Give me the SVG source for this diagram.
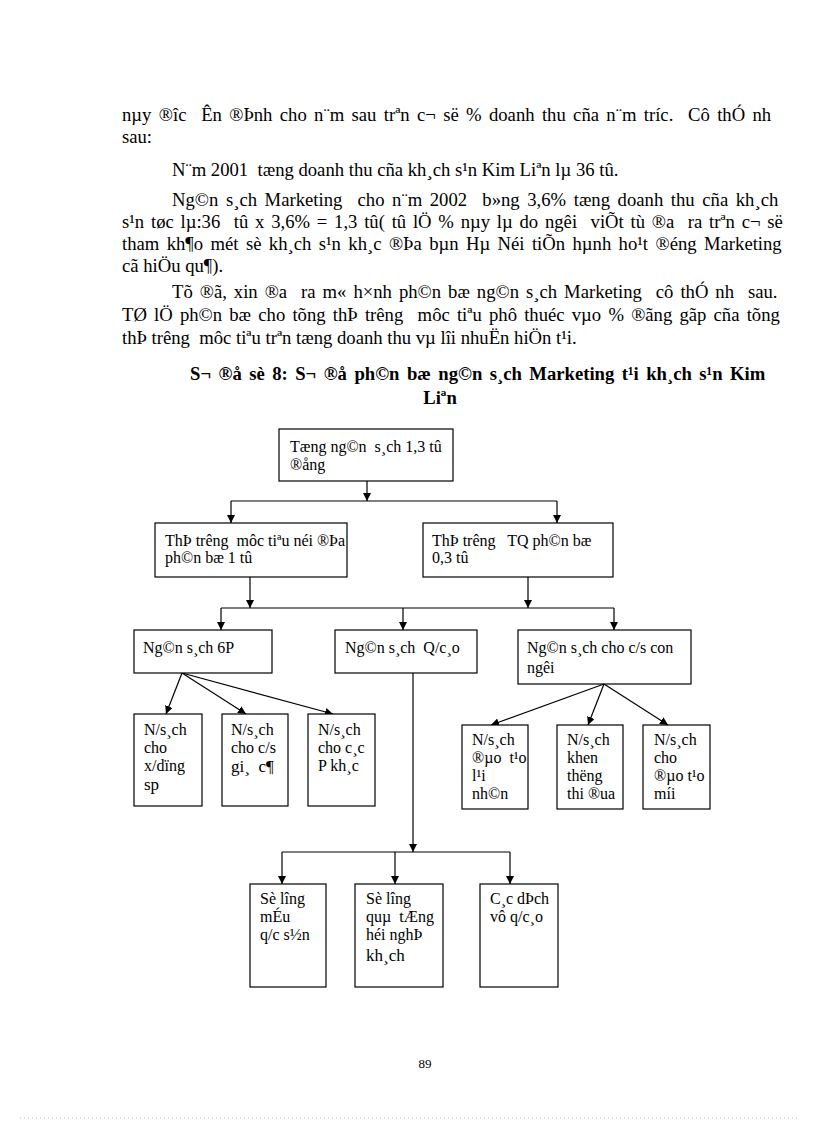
<svg xmlns="http://www.w3.org/2000/svg" width="816" height="1123" viewBox="0 0 816 1123">
<style>
.body{font-family:"Liberation Serif","Times New Roman",serif;font-size:18.67px;fill:#000;white-space:pre}
.title{font-family:"Liberation Serif","Times New Roman",serif;font-size:18.67px;font-weight:bold;fill:#000;white-space:pre}
.nt{font-family:"Liberation Serif","Times New Roman",serif;font-size:16px;fill:#000;white-space:pre}
.big{font-size:17px}
.box{fill:#fff;stroke:#000;stroke-width:1.2}
.ln{fill:none;stroke:#000;stroke-width:1.2}
.pg{font-family:"Liberation Serif","Times New Roman",serif;font-size:13px;fill:#000}
</style>
<defs>
<marker id="ah" viewBox="0 0 10 10" refX="10" refY="5" markerWidth="8" markerHeight="8" markerUnits="userSpaceOnUse" orient="auto">
<path d="M0,0 L10,5 L0,10 z" fill="#000"/>
</marker>
</defs>
<rect width="816" height="1123" fill="#fff"/>
<g id="body-text">
<text class="body" x="122" y="121" word-spacing="2.7">nµy ®îc  Ên ®Þnh cho n¨m sau trªn c¬ së % doanh thu cña n¨m tríc.  Cô thÓ nh</text>
<text class="body" x="122" y="143">sau:</text>
<text class="body" x="172" y="176">N¨m 2001  tæng doanh thu cña kh¸ch s¹n Kim Liªn lµ 36 tû.</text>
<text class="body" x="172" y="206" word-spacing="2.95">Ng©n s¸ch Marketing  cho n¨m 2002  b»ng 3,6% tæng doanh thu cña kh¸ch</text>
<text class="body" x="122" y="228" word-spacing="2.1">s¹n tøc lµ:36  tû x 3,6% = 1,3 tû( tû lÖ % nµy lµ do ngêi  viÕt tù ®a  ra trªn c¬ së</text>
<text class="body" x="122" y="250" word-spacing="2.74">tham kh¶o mét sè kh¸ch s¹n kh¸c ®Þa bµn Hµ Néi tiÕn hµnh ho¹t ®éng Marketing</text>
<text class="body" x="122" y="272">cã hiÖu qu¶).</text>
<text class="body" x="172" y="298" word-spacing="2.33">Tõ ®ã, xin ®a  ra m« h×nh ph©n bæ ng©n s¸ch Marketing  cô thÓ nh  sau.</text>
<text class="body" x="122" y="321" word-spacing="2.54">TØ lÖ ph©n bæ cho tõng thÞ trêng  môc tiªu phô thuéc vµo % ®ãng gãp cña tõng</text>
<text class="body" x="122" y="344">thÞ trêng  môc tiªu trªn tæng doanh thu vµ lîi nhuËn hiÖn t¹i.</text>
<text class="title" x="190" y="380" word-spacing="2.8">S¬ ®å sè 8: S¬ ®å ph©n bæ ng©n s¸ch Marketing t¹i kh¸ch s¹n Kim</text>
<text class="title" x="440" y="404" text-anchor="middle">Liªn</text>
</g>
<g id="connectors">
<line class="ln" x1="367" y1="481" x2="367" y2="501" marker-end="url(#ah)"/>
<line class="ln" x1="231" y1="501" x2="557" y2="501"/>
<line class="ln" x1="231" y1="501" x2="231" y2="523" marker-end="url(#ah)"/>
<line class="ln" x1="557" y1="501" x2="557" y2="523" marker-end="url(#ah)"/>
<line class="ln" x1="250" y1="577" x2="250" y2="608" marker-end="url(#ah)"/>
<line class="ln" x1="528" y1="577" x2="528" y2="608" marker-end="url(#ah)"/>
<line class="ln" x1="221" y1="608" x2="614" y2="608"/>
<line class="ln" x1="221" y1="608" x2="221" y2="630" marker-end="url(#ah)"/>
<line class="ln" x1="403" y1="608" x2="403" y2="630" marker-end="url(#ah)"/>
<line class="ln" x1="614" y1="608" x2="614" y2="630" marker-end="url(#ah)"/>
<line class="ln" x1="182" y1="673" x2="166" y2="714" marker-end="url(#ah)"/>
<line class="ln" x1="182" y1="673" x2="246" y2="714" marker-end="url(#ah)"/>
<line class="ln" x1="182" y1="673" x2="333" y2="714" marker-end="url(#ah)"/>
<line class="ln" x1="604" y1="684" x2="491" y2="725" marker-end="url(#ah)"/>
<line class="ln" x1="604" y1="684" x2="588" y2="725" marker-end="url(#ah)"/>
<line class="ln" x1="604" y1="684" x2="668" y2="725" marker-end="url(#ah)"/>
<line class="ln" x1="413" y1="673" x2="413" y2="852" marker-end="url(#ah)"/>
<line class="ln" x1="282" y1="852" x2="510" y2="852"/>
<line class="ln" x1="282" y1="852" x2="282" y2="884" marker-end="url(#ah)"/>
<line class="ln" x1="395" y1="852" x2="395" y2="884" marker-end="url(#ah)"/>
<line class="ln" x1="510" y1="852" x2="510" y2="884" marker-end="url(#ah)"/>
</g>
<g id="n-total">
<rect class="box" x="279" y="429" width="174" height="52"/>
<text class="nt" x="290" y="452">Tæng ng©n  s¸ch 1,3 tû</text>
<text class="nt" x="290" y="470">®ång</text>
</g>
<g id="n-noidia">
<rect class="box" x="155" y="523" width="192" height="54"/>
<text class="nt" x="165" y="546">ThÞ trêng  môc tiªu néi ®Þa</text>
<text class="nt" x="165" y="563">ph©n bæ 1 tû</text>
</g>
<g id="n-tq">
<rect class="box" x="423" y="523" width="190" height="54"/>
<text class="nt" x="432" y="546">ThÞ trêng   TQ ph©n bæ</text>
<text class="nt" x="432" y="563">0,3 tû</text>
</g>
<g id="n-6p">
<rect class="box" x="134" y="630" width="138" height="43"/>
<text class="nt" x="143" y="653">Ng©n s¸ch 6P</text>
</g>
<g id="n-qc">
<rect class="box" x="335" y="630" width="142" height="43"/>
<text class="nt" x="345" y="653">Ng©n s¸ch  Q/c¸o</text>
</g>
<g id="n-cs">
<rect class="box" x="518" y="630" width="173" height="54"/>
<text class="nt" x="527" y="653">Ng©n s¸ch cho c/s con</text>
<text class="nt" x="527" y="673">ngêi</text>
</g>
<g id="n-xd">
<rect class="box" x="134" y="714" width="68" height="92"/>
<text class="nt" x="144" y="735">N/s¸ch</text>
<text class="nt" x="144" y="753">cho</text>
<text class="nt" x="144" y="771">x/dïng</text>
<text class="nt big" x="144" y="790">sp</text>
</g>
<g id="n-gia">
<rect class="box" x="222" y="714" width="66" height="92"/>
<text class="nt" x="231" y="735">N/s¸ch</text>
<text class="nt" x="231" y="753">cho c/s</text>
<text class="nt big" x="231" y="772">gi¸  c¶</text>
</g>
<g id="n-pkhac">
<rect class="box" x="308" y="714" width="67" height="92"/>
<text class="nt" x="318" y="735">N/s¸ch</text>
<text class="nt" x="318" y="753">cho c¸c</text>
<text class="nt" x="318" y="771">P kh¸c</text>
</g>
<g id="n-daotaolai">
<rect class="box" x="462" y="725" width="66" height="84"/>
<text class="nt" x="472" y="745">N/s¸ch</text>
<text class="nt" x="472" y="763">®µo  t¹o</text>
<text class="nt" x="472" y="781">l¹i</text>
<text class="nt" x="472" y="799">nh©n</text>
</g>
<g id="n-khen">
<rect class="box" x="557" y="725" width="66" height="84"/>
<text class="nt" x="567" y="745">N/s¸ch</text>
<text class="nt" x="567" y="763">khen</text>
<text class="nt" x="567" y="781">thëng</text>
<text class="nt" x="567" y="799">thi ®ua</text>
</g>
<g id="n-daotaomoi">
<rect class="box" x="643" y="725" width="67" height="84"/>
<text class="nt" x="654" y="745">N/s¸ch</text>
<text class="nt" x="654" y="763">cho</text>
<text class="nt" x="654" y="781">®µo t¹o</text>
<text class="nt" x="654" y="799">míi</text>
</g>
<g id="n-mau">
<rect class="box" x="250" y="884" width="76" height="103"/>
<text class="nt" x="260" y="904">Sè lîng</text>
<text class="nt" x="260" y="922">mÉu</text>
<text class="nt" x="260" y="940">q/c s½n</text>
</g>
<g id="n-qua">
<rect class="box" x="355" y="884" width="88" height="103"/>
<text class="nt" x="366" y="904">Sè lîng</text>
<text class="nt" x="366" y="922">quµ  tÆng</text>
<text class="nt" x="366" y="940">héi nghÞ</text>
<text class="nt big" x="366" y="961">kh¸ch</text>
</g>
<g id="n-dv">
<rect class="box" x="480" y="884" width="78" height="103"/>
<text class="nt" x="490" y="904">C¸c dÞch</text>
<text class="nt" x="490" y="922">vô q/c¸o</text>
</g>
<text class="pg" x="425" y="1068" text-anchor="middle">89</text>
<line x1="20" y1="1118" x2="800" y2="1118" stroke="#bbb" stroke-width="1" stroke-dasharray="1,3"/>
</svg>
